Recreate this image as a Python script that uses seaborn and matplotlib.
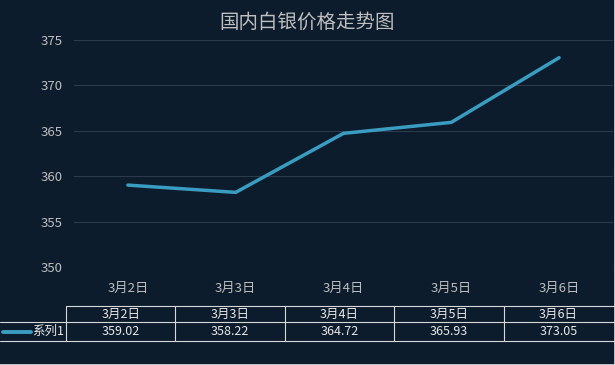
import matplotlib
matplotlib.use("Agg")
import matplotlib.pyplot as plt
import seaborn as sns
import pandas as pd
from matplotlib.lines import Line2D

dates = ["3月2日", "3月3日", "3月4日", "3月5日", "3月6日"]
prices = [359.02, 358.22, 364.72, 365.93, 373.05]
series_name = "系列1"
title = "国内白银价格走势图"
yticks = [350, 355, 360, 365, 370, 375]

BG = "#0C1C2C"
LINE = "#3A9CC0"
GRID = "#2B3B4B"
TXT = "#BDBDBD"
W, H = 615, 365

sns.set_theme(style="dark")
plt.rcParams['font.family'] = ['Noto Sans CJK SC', 'DejaVu Sans']

fig = plt.figure(figsize=(W / 100, H / 100), dpi=100, facecolor=BG)

def fx(px):
    return px / W

def fy(py):
    return 1 - py / H

left, right, top, bottom = 74, 613, 40, 267
ax = fig.add_axes([fx(left), fy(bottom), fx(right - left), (bottom - top) / H])
ax.set_facecolor(BG)

df = pd.DataFrame({"date": dates, "price": prices})
sns.lineplot(data=df, x="date", y="price", ax=ax, color=LINE, linewidth=2.5, sort=False)

ax.set_xlim(-0.5, len(dates) - 0.5)
ax.set_ylim(350, 375)
ax.set_yticks(yticks)
ax.set_yticklabels([str(v) for v in yticks], color=TXT, fontsize=9.5)
ax.tick_params(axis="y", length=0, pad=8)
ax.tick_params(axis="x", length=0, pad=11, labelsize=9.5, labelcolor=TXT)
ax.set_xticks(range(len(dates)))
ax.set_xticklabels(dates)
ax.grid(axis="y", color=GRID, linewidth=0.8)
ax.grid(axis="x", visible=False)
ax.set_xlabel("")
ax.set_ylabel("")
for s in ax.spines.values():
    s.set_visible(False)

fig.text(0.5, fy(22), title, ha="center", va="center", fontsize=14, color="#BEBEBE")

# data table
tleft = 66
col_w = (right - tleft) / len(dates)
t_top, t_mid, t_bot = 306, 322, 341
lc = "#D8D8D8"
lw = 0.8
def hline(y, x0, x1):
    fig.add_artist(Line2D([fx(x0), fx(x1)], [fy(y), fy(y)], color=lc, linewidth=lw))
def vline(x, y0, y1):
    fig.add_artist(Line2D([fx(x), fx(x)], [fy(y0), fy(y1)], color=lc, linewidth=lw))

hline(t_top, tleft, W)
hline(t_mid, 0, W)
hline(t_bot, 0, W)
for i in range(len(dates)):
    vline(tleft + i * col_w, t_top, t_bot)

for i, (d, p) in enumerate(zip(dates, prices)):
    cx = tleft + (i + 0.5) * col_w
    fig.text(fx(cx), fy((t_top + t_mid) / 2), d, ha="center", va="center", fontsize=9, color="#E8E8E8")
    fig.text(fx(cx), fy((t_mid + t_bot) / 2), f"{p:.2f}", ha="center", va="center", fontsize=9, color="#E8E8E8")

fig.add_artist(Line2D([fx(3), fx(31)], [fy(331.5), fy(331.5)], color=LINE, linewidth=2.8))
fig.text(fx(32), fy(331.5), series_name, ha="left", va="center", fontsize=9, color="#E8E8E8")

# outer light border on right and bottom
fig.add_artist(Line2D([fx(W - 0.5), fx(W - 0.5)], [0, 1], color="#E0E0E0", linewidth=1.2))
fig.add_artist(Line2D([0, 1], [fy(H - 0.5), fy(H - 0.5)], color="#E0E0E0", linewidth=1.2))

fig.savefig("out.png", dpi=100, facecolor=BG)
